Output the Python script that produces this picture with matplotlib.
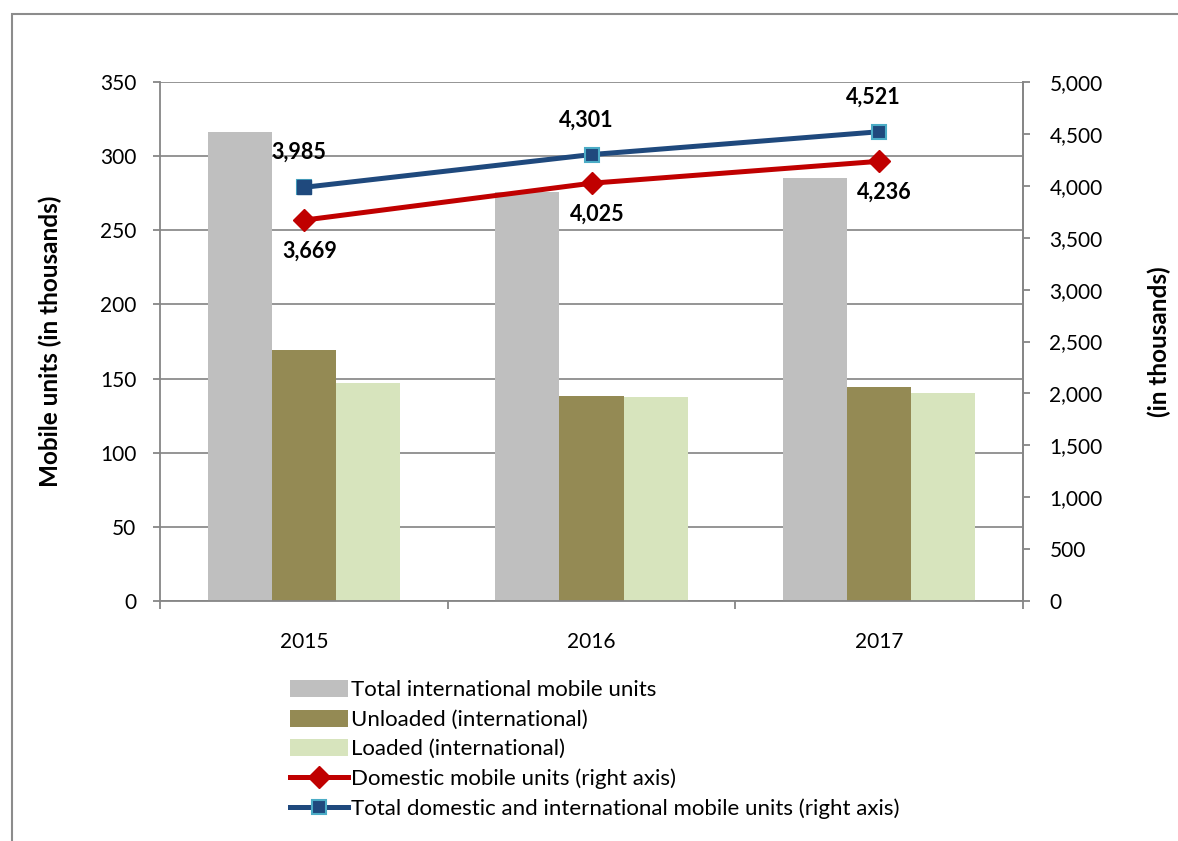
import matplotlib
matplotlib.use("Agg")
import matplotlib.pyplot as plt
import numpy as np
from matplotlib.patches import Rectangle
from matplotlib.ticker import FuncFormatter, MultipleLocator, FixedLocator

plt.rcParams['font.family'] = ['Lato', 'DejaVu Sans']

years = ['2015', '2016', '2017']
total_intl = [316, 276, 285]
unloaded = [169, 138, 144]
loaded = [147, 137.6, 140]
domestic = [3669, 4025, 4236]
total_all = [3985, 4301, 4521]

GRAY = '#BFBFBF'
OLIVE = '#948A54'
LIGHT = '#D7E4BD'
RED = '#C00000'
BLUE = '#1F497D'
CYAN = '#4BACC6'
SPINE = '#868686'

fig = plt.figure(figsize=(11.78, 8.41), dpi=100)
ax = fig.add_axes([160/1178, 1-601/841, (1023-160)/1178, (601-82)/841])

x = np.arange(len(years))
w = 0.223
b1 = ax.bar(x - w, total_intl, w, color=GRAY, label='Total international mobile units', zorder=2)
b2 = ax.bar(x, unloaded, w, color=OLIVE, label='Unloaded (international)', zorder=2)
b3 = ax.bar(x + w, loaded, w, color=LIGHT, label='Loaded (international)', zorder=2)

ax.set_xlim(-0.5, 2.5)
ax.set_ylim(0, 350)
ax.yaxis.set_major_locator(MultipleLocator(50))
ax.grid(axis='y', color='#8C8C8C', linewidth=1.3, zorder=0)
ax.set_axisbelow(True)
ax.set_xticks(x)
ax.set_xticklabels(years)
ax.xaxis.set_minor_locator(FixedLocator([-0.5, 0.5, 1.5, 2.5]))
ax.tick_params(axis='x', which='major', length=0, pad=22, labelsize=15)
ax.tick_params(axis='x', which='minor', length=6, width=1.3, color=SPINE, direction='out')
ax.tick_params(axis='y', length=5, width=1.3, color=SPINE, pad=12, labelsize=15)
ax.spines['top'].set_visible(False)
for s in ['left', 'bottom', 'right']:
    ax.spines[s].set_color(SPINE)
    ax.spines[s].set_linewidth(1.3)
ax.set_ylabel('Mobile units (in thousands)', fontsize=17.5, fontweight='bold', labelpad=27)

ax2 = ax.twinx()
ax2.set_ylim(0, 5000)
ax2.yaxis.set_major_locator(MultipleLocator(500))
ax2.yaxis.set_major_formatter(FuncFormatter(lambda v, p: f'{int(v):,}'))
ax2.tick_params(axis='y', length=5, width=1.3, color=SPINE, pad=14, labelsize=15)
for s in ['top', 'left', 'bottom']:
    ax2.spines[s].set_visible(False)
ax2.spines['right'].set_color(SPINE)
ax2.spines['right'].set_linewidth(1.3)
ax2.set_ylabel('(in thousands)', fontsize=17.5, fontweight='bold', labelpad=32)

l1, = ax2.plot(x, domestic, color=RED, linewidth=3.6, marker='D', markersize=11,
               markerfacecolor=RED, markeredgecolor=RED, label='Domestic mobile units (right axis)', zorder=5)
l2, = ax2.plot(x, total_all, color=BLUE, linewidth=3.6, marker='s', markersize=10.5,
               markerfacecolor=BLUE, markeredgecolor=CYAN, markeredgewidth=1.5,
               label='Total domestic and international mobile units (right axis)', zorder=5)
ax2.plot(x[:1], total_all[:1], linestyle='none', marker='s', markersize=10.5,
         markerfacecolor=BLUE, markeredgecolor=BLUE, zorder=6)

for xi, v in zip(x, total_all):
    ax2.annotate(f'{v:,}', (xi, v), xytext=(-4, 25), textcoords='offset points',
                 ha='center', va='center', fontsize=15.5, fontweight='bold')
for xi, v in zip(x, domestic):
    ax2.annotate(f'{v:,}', (xi, v), xytext=(4, -22), textcoords='offset points',
                 ha='center', va='center', fontsize=15.5, fontweight='bold')

handles = [b1, b2, b3, l1, l2]
labels = [h.get_label() for h in handles]
fig.legend(handles, labels, loc='upper left', bbox_to_anchor=(290/1178, 1-680/841),
           frameon=False, fontsize=16, handlelength=2.6, handleheight=0.8,
           labelspacing=0.42, handletextpad=0.15, borderaxespad=0, borderpad=0)

fig.patches.append(Rectangle((12/1178, -0.2), 2, (1-14/841) + 0.2,
                             transform=fig.transFigure, fill=False,
                             edgecolor='#8C8C8C', linewidth=1.5))

fig.savefig('out.png', dpi=100)
